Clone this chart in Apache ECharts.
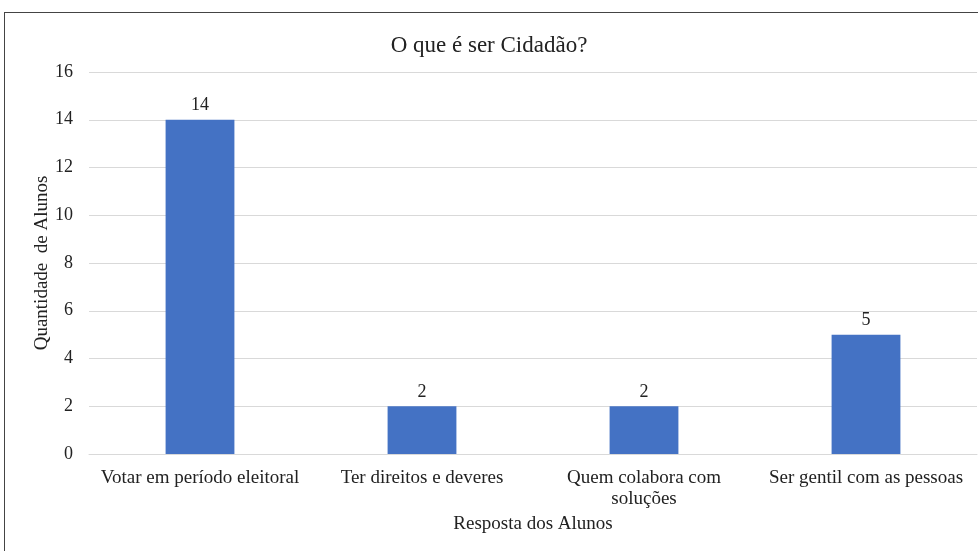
<!DOCTYPE html>
<html>
<head>
<meta charset="utf-8">
<script src="https://cdn.jsdelivr.net/npm/echarts@6/dist/echarts.min.js"></script>
<style>
  html, body { margin: 0; padding: 0; background: #fff; }
  #frame { position: absolute; left: 4px; top: 12px; width: 990px; height: 560px; border: 1px solid #444; box-sizing: border-box; }
  #chart { position: absolute; left: 0; top: 0; width: 978px; height: 551px; }
</style>
</head>
<body>
<div id="frame"></div>
<div id="chart"></div>
<script>
var categories = ['Votar em período eleitoral', 'Ter direitos e deveres', 'Quem colabora com\nsoluções', 'Ser gentil com as pessoas'];
var values = [14, 2, 2, 5];

var serif = '"Liberation Serif", "DejaVu Serif", serif';
var myChart = echarts.init(document.getElementById('chart'));
var option = {
    textStyle: { fontFamily: serif },
    title: {
        text: 'O que é ser Cidadão?',
        left: 'center',
        top: 29,
        textStyle: { fontFamily: serif, fontWeight: 'normal', fontSize: 23, color: '#222' }
    },
    grid: { left: 89, right: 1, top: 72, bottom: 97, containLabel: false },
    xAxis: {
        type: 'category',
        data: categories,
        name: 'Resposta dos Alunos',
        nameLocation: 'middle',
        nameGap: 61,
        nameMoveOverlap: false,
        nameTextStyle: { fontFamily: serif, fontSize: 19, color: '#222' },
        axisLine: { show: true, lineStyle: { color: '#d9d9d9' } },
        axisTick: { show: false },
        axisLabel: { fontFamily: serif, fontSize: 19, color: '#222', margin: 14, lineHeight: 21, interval: 0 }
    },
    yAxis: {
        type: 'value',
        min: 0,
        max: 16,
        interval: 2,
        name: 'Quantidade  de Alunos',
        nameLocation: 'middle',
        nameGap: 37,
        nameMoveOverlap: false,
        nameTextStyle: { fontFamily: serif, fontSize: 19, color: '#222' },
        axisLine: { show: false },
        axisTick: { show: false },
        axisLabel: { fontFamily: serif, fontSize: 18, color: '#222', margin: 16 },
        splitLine: { lineStyle: { color: '#d9d9d9' } }
    },
    series: [
        {
            type: 'bar',
            data: values,
            barWidth: '31%',
            itemStyle: { color: '#4472C4' },
            label: {
                show: true,
                position: 'top',
                distance: 5,
                fontFamily: serif,
                fontSize: 18,
                color: '#222'
            }
        }
    ]
};
myChart.setOption(option);
</script>
</body>
</html>
